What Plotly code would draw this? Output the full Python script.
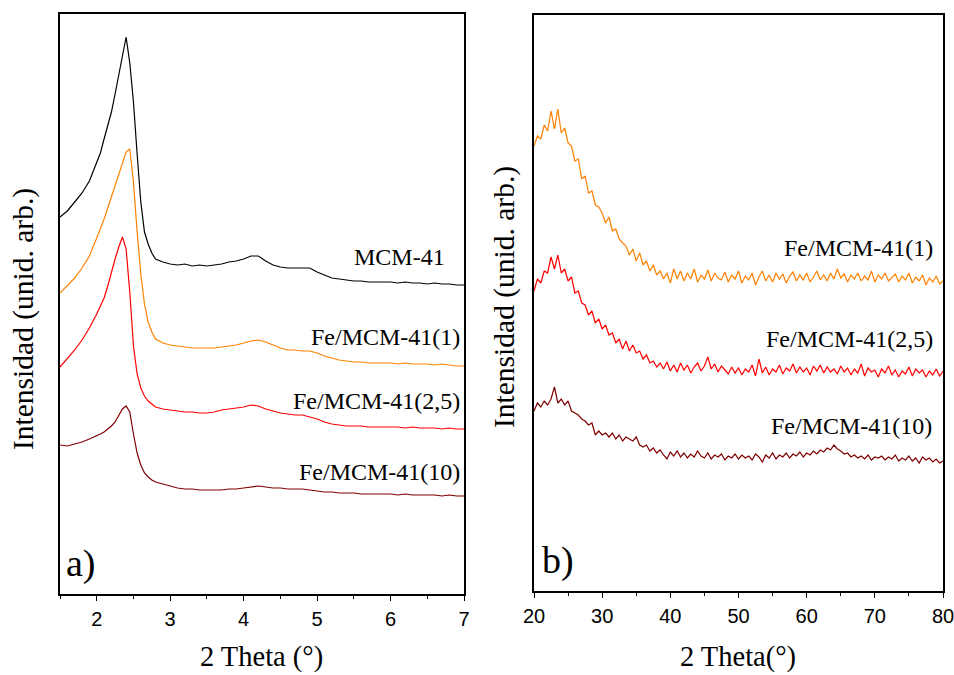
import plotly.graph_objects as go

# ---------------- Panel a) low-angle XRD ----------------
theta_a = [1.5, 1.6, 1.7, 1.8, 1.9, 2.0, 2.05, 2.1, 2.15, 2.2, 2.25, 2.3, 2.35, 2.4, 2.45,
           2.5, 2.55, 2.6, 2.65, 2.7, 2.75, 2.8, 2.9, 3.0, 3.1, 3.2, 3.3, 3.4, 3.5, 3.6,
           3.7, 3.8, 3.9, 4.0, 4.1, 4.2, 4.3, 4.4, 4.5, 4.6, 4.7, 4.8, 4.9, 5.0, 5.1,
           5.2, 5.3, 5.4, 5.5, 5.6, 5.7, 5.8, 5.9, 6.0, 6.1, 6.2, 6.3, 6.4, 6.5, 6.6,
           6.7, 6.8, 6.9, 7.0]

mcm41_a = [377, 383, 392, 401, 413, 432, 441, 455, 468, 482, 500, 518, 537, 557, 531,
           492, 440, 392, 362, 350, 341, 335, 332, 330, 329, 330, 328, 329, 328, 329,
           330, 332, 333, 335, 338, 338, 333, 329, 327, 326, 326, 326, 326, 322, 319,
           316, 315, 314, 313, 313, 312, 312, 312, 312, 311, 312, 311, 311, 310, 311,
           310, 310, 309, 309]

fe1_a = [301, 308, 316, 326, 338, 356, 365, 375, 386, 397, 408, 420, 431, 442, 445,
         412, 362, 320, 290, 272, 262, 255, 251, 249, 248, 247, 246, 246, 246, 246,
         247, 248, 249, 251, 253, 254, 252, 249, 246, 244, 244, 243, 243, 241, 238,
         236, 234, 233, 232, 232, 231, 231, 231, 231, 230, 231, 230, 230, 230, 229,
         230, 229, 228, 228]

fe25_a = [227, 235, 244, 254, 266, 280, 288, 296, 308, 322, 335, 347, 357, 345, 302,
          248, 220, 206, 198, 193, 190, 187, 185, 184, 183, 182, 182, 181, 181, 182,
          184, 185, 186, 187, 189, 188, 185, 183, 181, 180, 179, 179, 177, 175, 172,
          170, 169, 168, 168, 168, 167, 167, 167, 167, 167, 166, 167, 166, 166, 166,
          165, 166, 165, 165]

fe10_a = [149, 148, 150, 152, 155, 158, 160, 162, 165, 168, 172, 178, 185, 188, 182,
          160, 141, 129, 121, 117, 114, 112, 110, 108, 106, 105, 105, 104, 104, 104,
          104, 105, 105, 106, 107, 108, 107, 106, 106, 105, 105, 105, 104, 103, 102,
          102, 101, 101, 101, 100, 100, 100, 100, 100, 99, 100, 99, 99, 99, 99,
          98, 99, 98, 98]

# ---------------- Panel b) wide-angle XRD ----------------
theta_b = [20.0, 20.5, 21.0, 21.5, 22.0, 22.5, 23.0, 23.5, 24.0, 24.5, 25.0, 25.5, 26.0, 26.5,
           27.0, 27.5, 28.0, 28.5, 29.0, 29.5, 30.0, 30.5, 31.0, 31.5, 32.0, 32.5, 33.0, 33.5,
           34.0, 34.5, 35.0, 35.5, 36.0, 36.5, 37.0, 37.5, 38.0, 38.5, 39.0, 39.5, 40.0, 40.5,
           41.0, 41.5, 42.0, 42.5, 43.0, 43.5, 44.0, 44.5, 45.0, 45.5, 46.0, 46.5, 47.0, 47.5,
           48.0, 48.5, 49.0, 49.5, 50.0, 50.5, 51.0, 51.5, 52.0, 52.5, 53.0, 53.5, 54.0, 54.5,
           55.0, 55.5, 56.0, 56.5, 57.0, 57.5, 58.0, 58.5, 59.0, 59.5, 60.0, 60.5, 61.0, 61.5,
           62.0, 62.5, 63.0, 63.5, 64.0, 64.5, 65.0, 65.5, 66.0, 66.5, 67.0, 67.5, 68.0, 68.5,
           69.0, 69.5, 70.0, 70.5, 71.0, 71.5, 72.0, 72.5, 73.0, 73.5, 74.0, 74.5, 75.0, 75.5,
           76.0, 76.5, 77.0, 77.5, 78.0, 78.5, 79.0, 79.5, 80.0]

fe1_b = [445, 455, 452, 466, 460, 480, 462, 482, 458, 463, 448, 445, 430, 432,
         412, 415, 398, 400, 386, 384, 378, 368, 374, 360, 362, 352, 348, 345,
         336, 342, 330, 338, 326, 330, 320, 326, 316, 320, 312, 318, 308, 322,
         312, 320, 310, 318, 312, 322, 309, 316, 312, 321, 310, 318, 313, 311,
         319, 309, 316, 312, 320, 308, 315, 311, 318, 306, 314, 320, 310, 316,
         309, 318, 312, 317, 308, 315, 319, 310, 316, 311, 318, 309, 314, 320,
         311, 316, 310, 318, 312, 322, 313, 317, 309, 316, 312, 318, 310, 315,
         311, 320, 309, 316, 312, 318, 310, 314, 317, 309, 315, 311, 318, 308,
         314, 310, 316, 306, 313, 309, 315, 307, 310]

fe25_b = [300, 312, 308, 320, 318, 334, 322, 336, 318, 322, 310, 314, 298, 300,
          288, 286, 276, 280, 268, 272, 262, 266, 256, 258, 248, 252, 242, 250,
          240, 246, 238, 240, 232, 236, 228, 230, 224, 228, 222, 229, 220, 226,
          219, 228, 221, 226, 218, 224, 228, 220, 225, 234, 222, 227, 219, 225,
          221, 217, 224, 218, 223, 216, 222, 219, 226, 215, 232, 218, 224, 216,
          222, 219, 226, 217, 223, 220, 227, 218, 224, 219, 223, 216, 225, 220,
          226, 218, 224, 219, 222, 217, 225, 219, 223, 216, 222, 218, 227, 215,
          223, 219, 221, 214, 222, 218, 225, 216, 221, 214, 220, 217, 224, 215,
          222, 218, 221, 214, 220, 216, 222, 215, 220]

fe10_b = [180, 188, 184, 190, 186, 192, 204, 188, 192, 186, 190, 180, 178, 176,
          172, 170, 166, 168, 156, 160, 156, 158, 154, 158, 152, 156, 150, 154,
          152, 150, 154, 146, 144, 146, 140, 143, 138, 141, 136, 132, 139, 135,
          140, 134, 138, 133, 137, 134, 140, 135, 133, 138, 132, 136, 134, 137,
          131, 135, 133, 137, 132, 136, 133, 135, 131, 137, 134, 129, 136, 133,
          138, 132, 136, 134, 138, 133, 137, 135, 139, 134, 138, 136, 140, 137,
          141, 139, 143, 141, 146, 142, 140, 137, 138, 134, 136, 133, 135, 132,
          136, 131, 134, 133, 135, 131, 134, 132, 136, 130, 133, 131, 135, 130,
          133, 128, 134, 131, 133, 129, 132, 128, 130]

names = ["MCM-41", "Fe/MCM-41(1)", "Fe/MCM-41(2,5)", "Fe/MCM-41(10)"]
colors = ["#000000", "#FF8000", "#FF0000", "#800000"]

W, H = 954, 675
def px(x):
    return x / W
def py(y):
    return 1 - y / H

fig = go.Figure()

for ys, nm, c in zip([mcm41_a, fe1_a, fe25_a, fe10_a], names, colors):
    fig.add_trace(go.Scatter(x=theta_a, y=ys, mode="lines", name=nm,
                             line=dict(color=c, width=1.2), xaxis="x", yaxis="y"))

for ys, nm, c in zip([fe1_b, fe25_b, fe10_b], names[1:], colors[1:]):
    fig.add_trace(go.Scatter(x=theta_b, y=ys, mode="lines", name=nm,
                             line=dict(color=c, width=1.2), xaxis="x2", yaxis="y2"))

tickfont = dict(family="Liberation Sans, Arial, sans-serif", size=20, color="black")
serif = "Liberation Serif, Times New Roman, serif"

common_x = dict(showline=True, linecolor="black", linewidth=1.6, mirror=True,
                ticks="outside", ticklen=5, tickwidth=1.3, tickcolor="black",
                showgrid=False, zeroline=False, tickfont=tickfont, ticklabelstandoff=1,
                automargin=False, ticklabeloverflow="allow")
common_y = dict(showline=True, linecolor="black", linewidth=1.6, mirror=True,
                ticks="", showticklabels=False, showgrid=False, zeroline=False,
                automargin=False)

fig.update_layout(
    width=W, height=H,
    margin=dict(l=0, r=0, t=0, b=0, autoexpand=False),
    paper_bgcolor="white", plot_bgcolor="white",
    showlegend=False,
    xaxis=dict(domain=[px(60), px(464)], range=[1.5, 7], dtick=1, tick0=0,
               minor=dict(dtick=0.5, ticks="outside", ticklen=3, tickcolor="black", tickwidth=1.2),
               anchor="y", **common_x),
    yaxis=dict(domain=[py(594), py(14)], range=[0, 580], anchor="x", **common_y),
    xaxis2=dict(domain=[px(534), px(943)], range=[20, 80], dtick=10, tick0=0,
                minor=dict(dtick=5, ticks="outside", ticklen=3, tickcolor="black", tickwidth=1.2),
                anchor="y2", **common_x),
    yaxis2=dict(domain=[py(591), py(15)], range=[0, 576], anchor="x2", **common_y),
)

def ann(text, x, y, size, xanchor="center", yanchor="middle", angle=0):
    fig.add_annotation(text=text, x=px(x), y=py(y), xref="paper", yref="paper",
                       showarrow=False, xanchor=xanchor, yanchor=yanchor, textangle=angle,
                       font=dict(family=serif, size=size, color="black"))

# curve labels, panel a
ann("MCM-41", 447, 257, 24, xanchor="right")
ann("Fe/MCM-41(1)", 462, 337, 24, xanchor="right")
ann("Fe/MCM-41(2,5)", 462, 401, 24, xanchor="right")
ann("Fe/MCM-41(10)", 462, 472, 24, xanchor="right")
# curve labels, panel b
ann("Fe/MCM-41(1)", 935, 248, 24, xanchor="right")
ann("Fe/MCM-41(2,5)", 935, 339, 24, xanchor="right")
ann("Fe/MCM-41(10)", 934, 426, 24, xanchor="right")
# panel letters
ann("a)", 64, 563, 38, xanchor="left")
ann("b)", 540, 560, 38, xanchor="left")
# axis titles
ann("Intensidad (unid. arb.)", 23, 319, 29.5, angle=-90)
ann("Intensidad (unid. arb.)", 505, 297, 29.5, angle=-90)
ann("2 Theta (°)", 261, 657, 28.5)
ann("2 Theta(°)", 738, 657, 28.5)

fig.write_html(
    "out.html",
    config={"displayModeBar": False, "responsive": False},
    post_script="document.body.style.margin='0';document.body.style.overflow='hidden';",
)
